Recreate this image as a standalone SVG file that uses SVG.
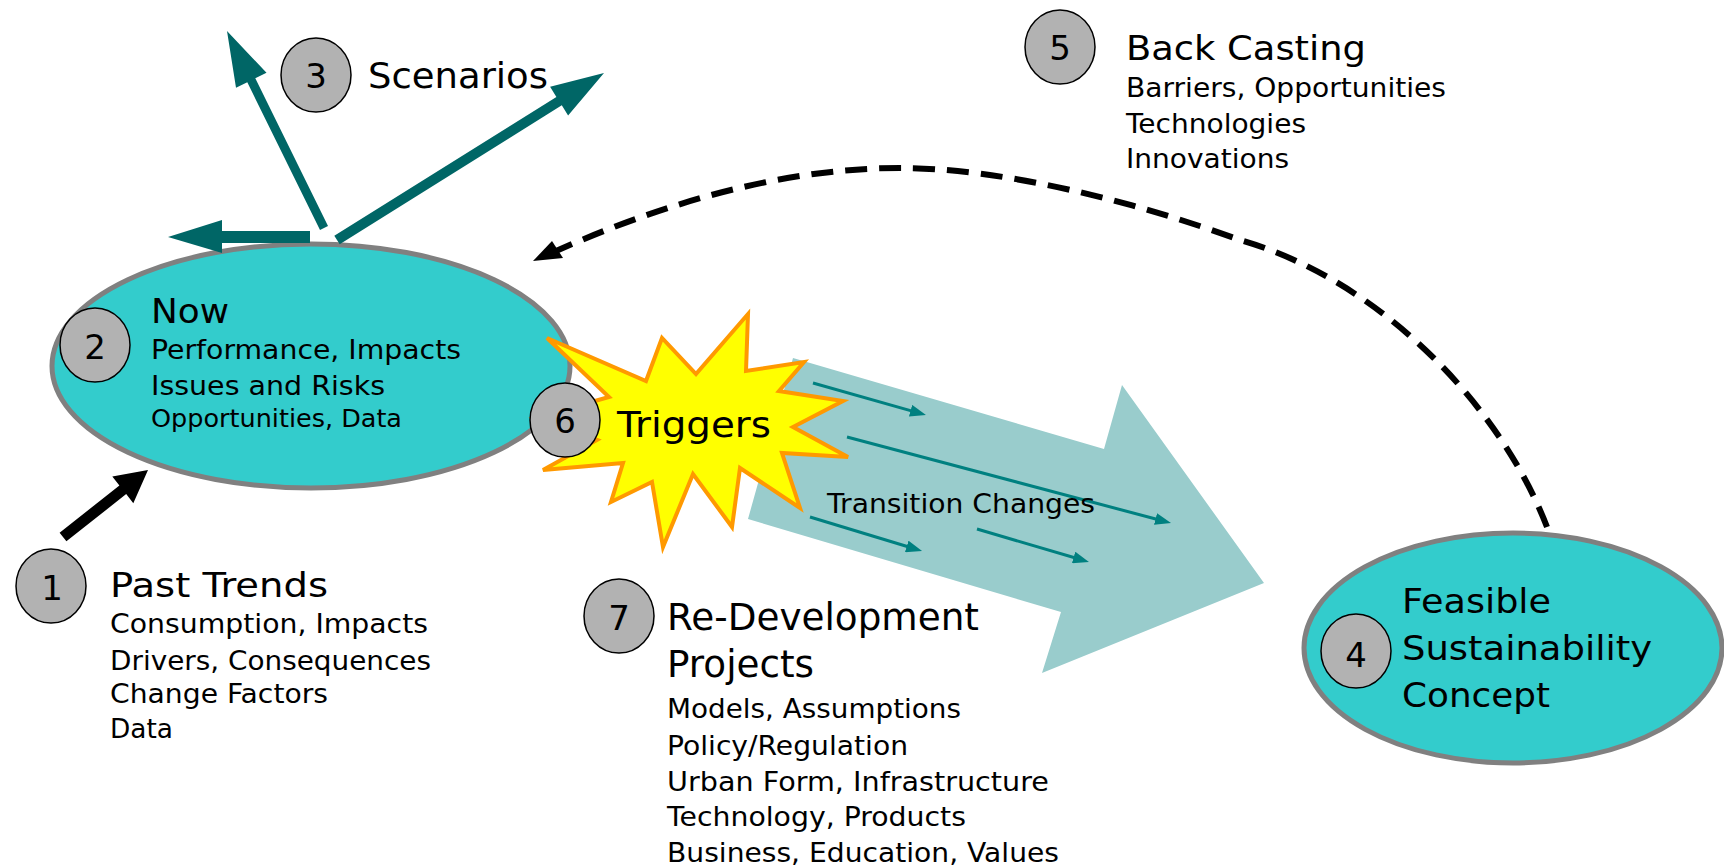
<svg xmlns="http://www.w3.org/2000/svg" width="1724" height="867" viewBox="0 0 1724 867">
<defs>
<style>
.t{font-family:"DejaVu Sans",Verdana,sans-serif;fill:#000}
.num{font-family:"DejaVu Sans",Verdana,sans-serif;font-size:34px;text-anchor:middle;fill:#000}
.badge{fill:#B2B2B2;stroke:#000;stroke-width:1.5}
.blob{fill:#33CCCC;stroke:#808080;stroke-width:5}
.teal{fill:#006666}
.small{stroke:#008080;stroke-width:3;fill:none;marker-end:url(#sh)}
</style>
<marker id="sh" markerUnits="userSpaceOnUse" markerWidth="16" markerHeight="12" refX="10" refY="6" orient="auto">
<path d="M0,0 L16,6 L0,12 z" fill="#008080"/>
</marker>
</defs>
<rect width="1724" height="867" fill="#fff"/>

<g id="transition">
<polygon points="793,358 1104,449 1122,385 1264,583 1042,673 1061,612 748,519" fill="#99CCCC"/>
</g>

<g id="node-2">
<ellipse class="blob" cx="311" cy="366" rx="259" ry="122"/>
<ellipse class="badge" cx="95" cy="345" rx="35" ry="37"/>
<text class="num" x="95" y="359">2</text>
<text class="t" x="151" y="323" font-size="34" textLength="78" lengthAdjust="spacingAndGlyphs">Now</text>
<text class="t" x="151" y="359" font-size="26" textLength="310" lengthAdjust="spacingAndGlyphs">Performance, Impacts</text>
<text class="t" x="151" y="395" font-size="26" textLength="234" lengthAdjust="spacingAndGlyphs">Issues and Risks</text>
<text class="t" x="151" y="427" font-size="25" textLength="251" lengthAdjust="spacingAndGlyphs">Opportunities, Data</text>
</g>

<g id="node-1">
<ellipse class="badge" cx="51" cy="586" rx="35" ry="37"/>
<text class="num" x="52" y="600">1</text>
<text class="t" x="110" y="597" font-size="34" textLength="218" lengthAdjust="spacingAndGlyphs">Past Trends</text>
<text class="t" x="110" y="633" font-size="26" textLength="318" lengthAdjust="spacingAndGlyphs">Consumption, Impacts</text>
<text class="t" x="110" y="670" font-size="26" textLength="321" lengthAdjust="spacingAndGlyphs">Drivers, Consequences</text>
<text class="t" x="110" y="703" font-size="26" textLength="218" lengthAdjust="spacingAndGlyphs">Change Factors</text>
<text class="t" x="110" y="738" font-size="26" textLength="63" lengthAdjust="spacingAndGlyphs">Data</text>
</g>

<g id="node-3">
<ellipse class="badge" cx="316" cy="75" rx="35" ry="37"/>
<text class="num" x="316" y="88">3</text>
<text class="t" x="368" y="88" font-size="36" textLength="180" lengthAdjust="spacingAndGlyphs">Scenarios</text>
</g>

<g id="node-5">
<ellipse class="badge" cx="1060" cy="47" rx="35" ry="37"/>
<text class="num" x="1060" y="60">5</text>
<text class="t" x="1126" y="60" font-size="34" textLength="240" lengthAdjust="spacingAndGlyphs">Back Casting</text>
<text class="t" x="1126" y="97" font-size="26" textLength="320" lengthAdjust="spacingAndGlyphs">Barriers, Opportunities</text>
<text class="t" x="1126" y="133" font-size="26" textLength="180" lengthAdjust="spacingAndGlyphs">Technologies</text>
<text class="t" x="1126" y="168" font-size="26" textLength="163" lengthAdjust="spacingAndGlyphs">Innovations</text>
</g>

<g id="node-4">
<ellipse class="blob" cx="1513" cy="648" rx="209" ry="115"/>
<ellipse class="badge" cx="1356" cy="651" rx="35" ry="37"/>
<text class="num" x="1356" y="667">4</text>
<text class="t" x="1402" y="613" font-size="33" textLength="149" lengthAdjust="spacingAndGlyphs">Feasible</text>
<text class="t" x="1402" y="660" font-size="33" textLength="250" lengthAdjust="spacingAndGlyphs">Sustainability</text>
<text class="t" x="1402" y="707" font-size="33" textLength="148" lengthAdjust="spacingAndGlyphs">Concept</text>
</g>

<g id="node-6">
<polygon points="547,338 646,381 662,338 696,374 748,314 746,371 804,362 779,391 843,401 793,427 848,457 782,453 800,508 740,468 732,527 693,474 663,547 652,482 611,502 623,463 543,470 597,440 535,418 609,397" fill="#FFFF00" stroke="#FF9900" stroke-width="4" stroke-linejoin="miter"/>
<ellipse class="badge" cx="565" cy="420" rx="35" ry="37"/>
<text class="num" x="565" y="433">6</text>
<text class="t" x="617" y="437" font-size="36" textLength="154" lengthAdjust="spacingAndGlyphs">Triggers</text>
</g>

<g id="node-7">
<ellipse class="badge" cx="619" cy="616" rx="35" ry="37"/>
<text class="num" x="619" y="630">7</text>
<text class="t" x="667" y="630" font-size="37" textLength="312" lengthAdjust="spacingAndGlyphs">Re-Development</text>
<text class="t" x="667" y="677" font-size="37" textLength="147" lengthAdjust="spacingAndGlyphs">Projects</text>
<text class="t" x="667" y="718" font-size="27" textLength="294" lengthAdjust="spacingAndGlyphs">Models, Assumptions</text>
<text class="t" x="667" y="755" font-size="27" textLength="241" lengthAdjust="spacingAndGlyphs">Policy/Regulation</text>
<text class="t" x="667" y="791" font-size="27" textLength="382" lengthAdjust="spacingAndGlyphs">Urban Form, Infrastructure</text>
<text class="t" x="667" y="826" font-size="27" textLength="299" lengthAdjust="spacingAndGlyphs">Technology, Products</text>
<text class="t" x="667" y="862" font-size="27" textLength="392" lengthAdjust="spacingAndGlyphs">Business, Education, Values</text>
</g>

<g id="connectors">
<polygon points="59.6,532.7 119.4,485.5 112.3,476.4 148,470 133.3,503.2 126.2,494.1 66.4,541.3" fill="#000"/>
<polygon class="teal" points="320,230 247.3,82.3 236,87.8 227,31 266.5,72.8 255.3,78.3 328,226"/>
<polygon class="teal" points="334.3,235.8 556.4,96.9 550.1,86.7 604,73 568.1,115.5 561.8,105.3 339.7,244.2"/>
<polygon class="teal" points="310,231 222,231 222,220 168,237 222,253 222,243 310,243"/>
<path d="M1547,527 C1500,405 1380,280 1240,240 C1130,200 1000,168 900,168 C780,168 660,205 556,251" fill="none" stroke="#000" stroke-width="6" stroke-dasharray="22 12"/>
<polygon points="533,261 552,241 563,258" fill="#000"/>
<line class="small" x1="813" y1="383" x2="920.2" y2="413.4"/>
<line class="small" x1="847" y1="437" x2="1165.2" y2="521.5"/>
<line class="small" x1="810" y1="517" x2="916.3" y2="549.3" stroke-width="4"/>
<line class="small" x1="977" y1="529" x2="1083.2" y2="560.3"/>
<text class="t" x="827" y="513" font-size="27" textLength="268" lengthAdjust="spacingAndGlyphs">Transition Changes</text>
</g>
</svg>
